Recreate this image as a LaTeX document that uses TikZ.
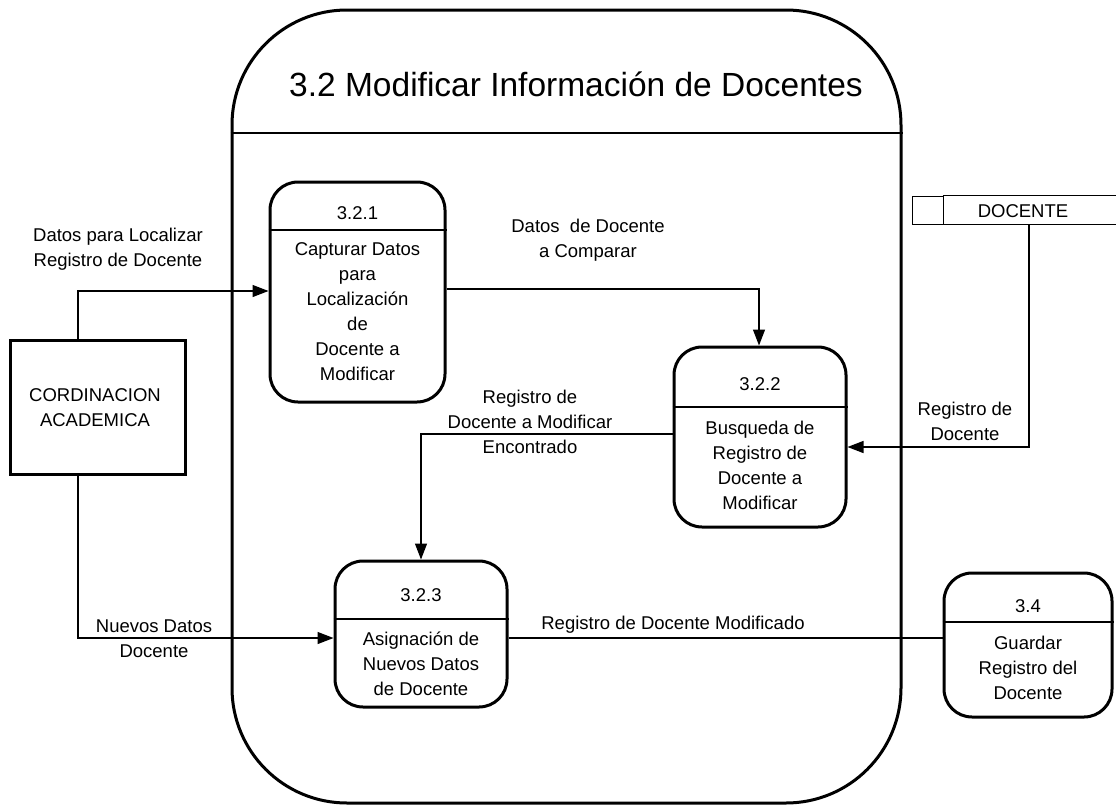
\documentclass[tikz,border=0pt]{standalone}
\usepackage{fontspec}
\setmainfont{Liberation Sans}
\usetikzlibrary{arrows.meta}
\begin{document}
\begin{tikzpicture}[x=1pt,y=-1pt,
  lbl/.style={font=\fontsize{18.5}{25}\selectfont, inner sep=0pt, align=center},
  proc/.style={draw, line width=3pt, rounded corners=28pt, inner sep=0pt},
  thinline/.style={line width=1.3pt},
  flow/.style={line width=1.3pt, -{Triangle[length=16pt,width=12pt]}}]
\useasboundingbox (0,0) rectangle (1116,806);
% outer process
\node[draw, line width=3pt, rounded corners=115pt, minimum width=669pt, minimum height=793pt, inner sep=0pt] (outer) at (566.5,406.5) {};
\coordinate (d0) at (0,133);
\draw[thinline] (outer.west |- d0) -- (outer.east |- d0);
\node[inner sep=0pt, font=\fontsize{33.5}{38}\selectfont] (title) at (576,84) {3.2 Modificar Información de Docentes};
% process 3.2.1
\node[proc, minimum width=175pt, minimum height=220pt] (p1) at (357.5,292) {};
\coordinate (d1) at (0,230);
\draw[thinline] (p1.west |- d1) -- (p1.east |- d1);
\node[lbl] (p1id) at (357.5,213) {3.2.1};
\node[lbl] (p1tx) at (357.5,312) {Capturar Datos\\para\\Localización\\de\\Docente a\\Modificar};
% process 3.2.2
\node[proc, minimum width=172pt, minimum height=180pt] (p2) at (760,437) {};
\coordinate (d2) at (0,407);
\draw[thinline] (p2.west |- d2) -- (p2.east |- d2);
\node[lbl] (p2id) at (760,384) {3.2.2};
\node[lbl] (p2tx) at (760,465) {Busqueda de\\Registro de\\Docente a\\Modificar};
% process 3.2.3
\node[proc, minimum width=172pt, minimum height=146pt] (p3) at (421,634) {};
\coordinate (d3) at (0,619);
\draw[thinline] (p3.west |- d3) -- (p3.east |- d3);
\node[lbl] (p3id) at (421,595) {3.2.3};
\node[lbl] (p3tx) at (421,664) {Asignación de\\Nuevos Datos\\de Docente};
% process 3.4
\node[proc, minimum width=168pt, minimum height=144pt] (p4) at (1028,645) {};
\coordinate (d4) at (0,622);
\draw[thinline] (p4.west |- d4) -- (p4.east |- d4);
\node[lbl] (p4id) at (1028,606) {3.4};
\node[lbl] (p4tx) at (1028,668) {Guardar\\Registro del\\Docente};
% external entity
\node[draw, line width=3pt, minimum width=175pt, minimum height=134pt, inner sep=0pt] (ca) at (97.5,407) {};
\node[lbl] (catx) at (95,408) {CORDINACION\\ACADEMICA};
% data store
\node[draw, line width=1pt, minimum width=31pt, minimum height=28pt, inner sep=0pt] (dsq) at (927.5,210) {};
\node[minimum width=173pt, minimum height=28pt, inner sep=0pt] (ds) at (1029.5,210) {};
\draw[line width=1pt] (ds.north west) -- (ds.north east);
\draw[line width=1pt] (ds.south west) -- (ds.south east);
\node[lbl] (dstx) at (1023,211) {DOCENTE};
% flows
\coordinate (b1) at (78,291);
\draw[flow] (ca.north -| b1) -- (b1) -- (p1.west |- b1);
\node[lbl] (l1) at (118,249) {Datos para Localizar\\Registro de Docente};
\coordinate (b2) at (759,289);
\draw[flow] (p1.east |- b2) -- (b2) -- (p2.north -| b2);
\node[lbl] (l2) at (588,240) {Datos\ \ de Docente\\a Comparar};
\coordinate (b3) at (1029,447);
\draw[flow] (ds.south -| b3) -- (b3) -- (p2.east |- b3);
\node[lbl] (l3) at (965,421) {Registro de\\Docente};
\coordinate (b4) at (421,434);
\draw[flow] (p2.west |- b4) -- (b4) -- (p3.north -| b4);
\node[lbl] (l4) at (530,422) {Registro de\\Docente a Modificar\\Encontrado};
\coordinate (b5) at (78,638);
\draw[flow] (ca.south -| b5) -- (b5) -- (p3.west |- b5);
\node[lbl] (l5) at (154,639) {Nuevos Datos\\Docente};
\draw[thinline] (p3.east |- b5) -- (p4.west |- b5);
\node[lbl] (l6) at (673,625) {Registro de Docente Modificado};
\end{tikzpicture}
\end{document}
